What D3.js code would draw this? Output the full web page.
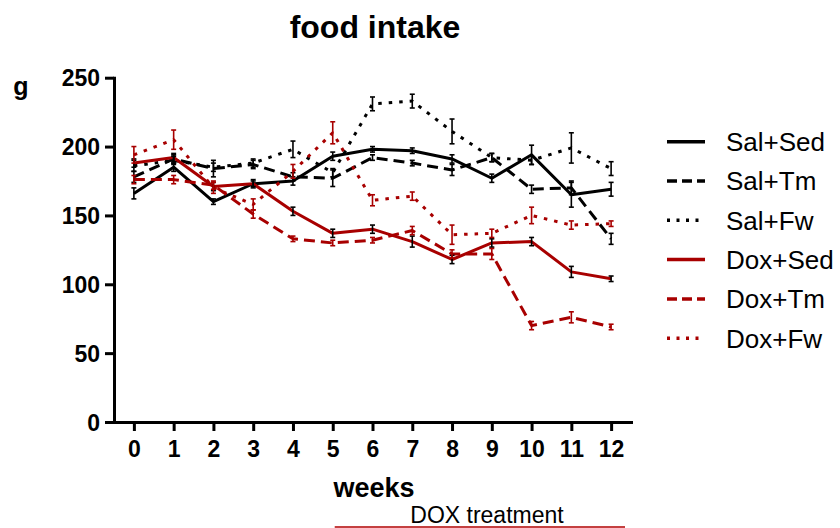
<!DOCTYPE html>
<html>
<head>
<meta charset="utf-8">
<script src="https://cdn.jsdelivr.net/npm/d3@7"></script>
<style>
  html, body { margin: 0; padding: 0; background: #fff; }
  svg { display: block; }
  text { font-family: "Liberation Sans", Arial, sans-serif; fill: #000; }
</style>
</head>
<body>
<svg id="chart" width="840" height="528"></svg>
<script>
// Weekly food intake (g), mean and error per group
const weeks = [0, 1, 2, 3, 4, 5, 6, 7, 8, 9, 10, 11, 12];
const yTicks = [0, 50, 100, 150, 200, 250];

const salSed    = [166, 185, 160, 173, 175, 193, 198, 197, 191, 177, 194, 165, 169];
const salSedErr = [4, 3, 2, 2, 3, 3, 2, 2, 3, 3, 7, 9, 5];
const salTm     = [178, 191, 184, 187, 178, 177, 192, 188, 183, 192, 169, 170, 133];
const salTmErr  = [4, 3, 6, 3, 3, 6, 2, 2, 4, 3, 3, 5, 4];
const salFw     = [186, 190, 185, 188, 198, 181, 231, 233, 211, 192, 190, 199, 184];
const salFwErr  = [4, 3, 3, 3, 6, 3, 5, 5, 9, 3, 3, 11, 5];
const doxSed    = [188, 192, 171, 173, 153, 137, 140, 131, 118, 130, 131, 109, 104];
const doxSedErr = [3, 3, 3, 3, 3, 3, 3, 4, 3, 3, 3, 4, 2];
const doxTm     = [176, 176, 172, 151, 133, 130, 132, 139, 122, 122, 70, 76, 69];
const doxTmErr  = [3, 3, 3, 3, 2, 2, 2, 3, 3, 4, 3, 4, 2];
const doxFw     = [194, 205, 170, 158, 182, 210, 161, 164, 136, 137, 150, 143, 144];
const doxFwErr  = [6, 7, 4, 4, 5, 8, 4, 3, 7, 3, 6, 3, 2];

const groupNames = ["Sal+Sed", "Sal+Tm", "Sal+Fw", "Dox+Sed", "Dox+Tm", "Dox+Fw"];
const treatmentSpan = [5.05, 12.35];

const BLACK = "#000000";
const RED = "#a80000";

const series = [
  { name: groupNames[0], values: salSed, err: salSedErr, color: BLACK, errColor: BLACK, style: "solid" },
  { name: groupNames[1], values: salTm,  err: salTmErr,  color: BLACK, errColor: BLACK, style: "dash" },
  { name: groupNames[2], values: salFw,  err: salFwErr,  color: BLACK, errColor: BLACK, style: "dot" },
  { name: groupNames[3], values: doxSed, err: doxSedErr, color: RED,   errColor: BLACK, style: "solid" },
  { name: groupNames[4], values: doxTm,  err: doxTmErr,  color: RED,   errColor: RED,   style: "dash" },
  { name: groupNames[5], values: doxFw,  err: doxFwErr,  color: RED,   errColor: RED,   style: "dot" }
];

const dashFor = { solid: null, dash: "11,6", dot: "3.5,7" };
const legendDashFor = { solid: null, dash: "10,5", dot: "3,6.5" };

const svg = d3.select("#chart");

const x = d3.scaleLinear().domain([-0.5, 12.5]).range([114, 631]);
const y = d3.scaleLinear().domain([0, 250]).range([422, 77.7]);

// Title and axis titles
svg.append("text")
  .attr("x", 375).attr("y", 38)
  .attr("text-anchor", "middle")
  .style("font-size", "32px").style("font-weight", "bold")
  .text("food intake");

svg.append("text")
  .attr("x", 21).attr("y", 95)
  .attr("text-anchor", "middle")
  .style("font-size", "25px").style("font-weight", "bold")
  .text("g");

svg.append("text")
  .attr("x", 374).attr("y", 497)
  .attr("text-anchor", "middle")
  .style("font-size", "27px").style("font-weight", "bold")
  .text("weeks");

// Treatment period marker
svg.append("text")
  .attr("x", 487).attr("y", 523)
  .attr("text-anchor", "middle")
  .style("font-size", "23px")
  .text("DOX treatment");

svg.append("line")
  .attr("x1", x(treatmentSpan[0])).attr("x2", x(treatmentSpan[1]))
  .attr("y1", 527).attr("y2", 527)
  .attr("stroke", "#b00000").attr("stroke-width", 1.6);

// Axes
const xAxis = svg.append("g")
  .attr("transform", `translate(0,${y(0)})`)
  .call(d3.axisBottom(x).tickValues(weeks).tickSize(9).tickSizeOuter(0).tickFormat(d3.format("d")));

const yAxis = svg.append("g")
  .attr("transform", `translate(${x(-0.5)},0)`)
  .call(d3.axisLeft(y).tickValues(yTicks).tickSize(9).tickSizeOuter(0));

[xAxis, yAxis].forEach(ax => {
  ax.select(".domain").attr("stroke", "#000").attr("stroke-width", 3).attr("stroke-linecap", "square");
  ax.selectAll(".tick line").attr("stroke", "#000").attr("stroke-width", 3);
  ax.selectAll(".tick text")
    .style("font-size", "23px").style("font-weight", "bold")
    .style("font-family", "'Liberation Sans', Arial, sans-serif")
    .attr("fill", "#000");
});
xAxis.selectAll(".tick text").attr("y", 35).attr("dy", 0);
yAxis.selectAll(".tick text").attr("x", -14).attr("dy", "0.36em");

// Series lines
const line = d3.line()
  .x((d, i) => x(weeks[i]))
  .y(d => y(d));

const plot = svg.append("g");

series.forEach(s => {
  plot.append("path")
    .datum(s.values)
    .attr("d", line)
    .attr("fill", "none")
    .attr("stroke", s.color)
    .attr("stroke-width", 3)
    .attr("stroke-linejoin", "round")
    .attr("stroke-dasharray", dashFor[s.style]);
});

// Error bars
series.forEach(s => {
  const g = plot.append("g");
  s.values.forEach((v, i) => {
    const cx = x(weeks[i]);
    const top = y(v + s.err[i]);
    const bot = y(v - s.err[i]);
    g.append("line")
      .attr("x1", cx).attr("x2", cx).attr("y1", top).attr("y2", bot)
      .attr("stroke", s.errColor).attr("stroke-width", 1.6);
    [top, bot].forEach(yy => {
      g.append("line")
        .attr("x1", cx - 2.5).attr("x2", cx + 2.5).attr("y1", yy).attr("y2", yy)
        .attr("stroke", s.errColor).attr("stroke-width", 1.6);
    });
  });
});

// Legend
const legend = svg.append("g");
series.forEach((s, i) => {
  const ly = 141.7 + i * 39.3;
  legend.append("line")
    .attr("x1", 667).attr("x2", 705).attr("y1", ly).attr("y2", ly)
    .attr("stroke", s.color).attr("stroke-width", 3.5)
    .attr("stroke-dasharray", legendDashFor[s.style]);
  legend.append("text")
    .attr("x", 726).attr("y", ly + 9.3)
    .style("font-size", "26px")
    .text(s.name);
});
</script>
</body>
</html>
